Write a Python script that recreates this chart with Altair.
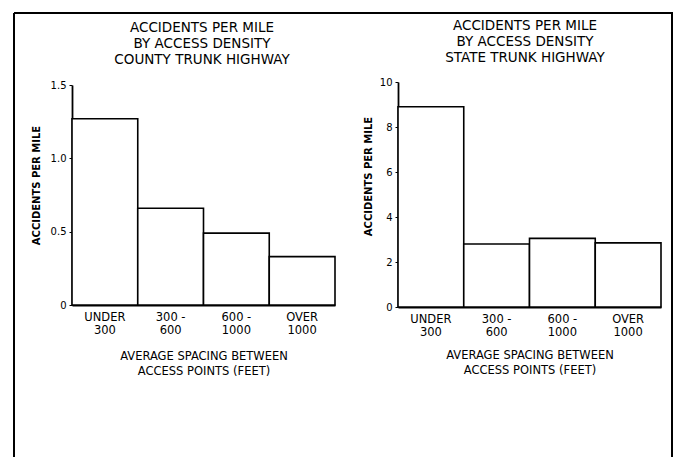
import altair as alt
import pandas as pd

# ---- data ----
categories = ["UNDER|300", "300 -|600", "600 -|1000", "OVER|1000"]
county_values = [1.27, 0.66, 0.49, 0.33]
state_values = [8.9, 2.8, 3.05, 2.85]
county_title = ["ACCIDENTS PER MILE", "BY ACCESS DENSITY", "COUNTY TRUNK HIGHWAY"]
state_title = ["ACCIDENTS PER MILE", "BY ACCESS DENSITY", "STATE TRUNK HIGHWAY"]
y_title = "ACCIDENTS PER MILE"
x_title = ["AVERAGE SPACING BETWEEN", "ACCESS POINTS (FEET)"]
county_ticks = [0, 0.5, 1.0, 1.5]
state_ticks = [0, 2, 4, 6, 8, 10]

W, H = 659, 444
FONT = "DejaVu Sans"

county = pd.DataFrame({"cat": categories, "value": county_values})
state = pd.DataFrame({"cat": categories, "value": state_values})


def panel(df, xrange, yrange, ydomain, yticks, label_expr, xoff, yoff,
          ytx, yty, xty):
    return alt.Chart(df).mark_bar(
        fill="white", stroke="black", strokeWidth=1.6
    ).encode(
        x=alt.X(
            "cat:N", sort=categories,
            scale=alt.Scale(range=xrange, paddingInner=0, paddingOuter=0),
            axis=alt.Axis(
                orient="bottom", offset=xoff, title=x_title, ticks=False,
                labelExpr="split(datum.label, '|')", labelAngle=0,
                labelFont=FONT, labelFontSize=11.5, labelPadding=6,
                labelLineHeight=13.5, labelColor="black",
                domainColor="black", domainWidth=1.8,
                titleFont=FONT, titleFontSize=11.5, titleFontWeight="normal",
                titleColor="black", titleLineHeight=15, titleY=xty,
                titleBaseline="top",
            ),
        ),
        y=alt.Y(
            "value:Q",
            scale=alt.Scale(domain=ydomain, range=yrange, nice=False, zero=True),
            axis=alt.Axis(
                orient="left", offset=yoff, values=yticks, grid=False,
                labelExpr=label_expr, labelFont=FONT, labelFontSize=10,
                labelColor="black", labelPadding=3, tickSize=3,
                tickColor="black", domainColor="black", domainWidth=1.8,
                title=y_title, titleFont=FONT, titleFontSize=10,
                titleFontWeight="bold", titleColor="black", titleAngle=-90,
                titleX=ytx, titleY=yty, titleBaseline="middle",
            ),
        ),
    )


left = panel(
    county, [58, 321], [292, 72], [0, 1.5], county_ticks,
    "datum.value == 0 ? '0' : format(datum.value, '.1f')",
    -152, -58, -36, 172, 45,
)
right = panel(
    state, [384, 647], [294, 69], [0, 10], state_ticks,
    "format(datum.value, 'd')",
    -150, -384, -30, 163, 42,
)

one = pd.DataFrame({"k": [0]})
frame_top = alt.Chart(one).mark_rule(color="black", strokeWidth=2).encode(
    x=alt.value(0), x2=alt.value(W), y=alt.value(0))
frame_left = alt.Chart(one).mark_rule(color="black", strokeWidth=2).encode(
    x=alt.value(0), y=alt.value(0), y2=alt.value(H + 20))
frame_right = alt.Chart(one).mark_rule(color="black", strokeWidth=2).encode(
    x=alt.value(W - 1), y=alt.value(0), y2=alt.value(H + 20))

titles = pd.DataFrame({"t": ["\n".join(county_title), "\n".join(state_title)]})
title_left = alt.Chart(titles.iloc[[0]]).mark_text(
    lineBreak="\n", font=FONT, fontSize=13.5, baseline="top", align="center",
    lineHeight=16, color="black",
).encode(x=alt.value(188), y=alt.value(8), text="t:N")
title_right = alt.Chart(titles.iloc[[1]]).mark_text(
    lineBreak="\n", font=FONT, fontSize=13.5, baseline="top", align="center",
    lineHeight=16, color="black",
).encode(x=alt.value(511), y=alt.value(6), text="t:N")

chart = alt.layer(
    left, right, frame_top, frame_left, frame_right, title_left, title_right
).resolve_scale(
    x="independent", y="independent"
).resolve_axis(
    x="independent", y="independent"
).properties(
    width=W, height=H,
    autosize=alt.AutoSizeParams(type="none"),
    padding={"left": 6, "top": 5, "right": 0, "bottom": 0},
    background="white",
).configure_view(stroke=None)

chart.save("out.html", embed_options={"renderer": "svg", "actions": False})
